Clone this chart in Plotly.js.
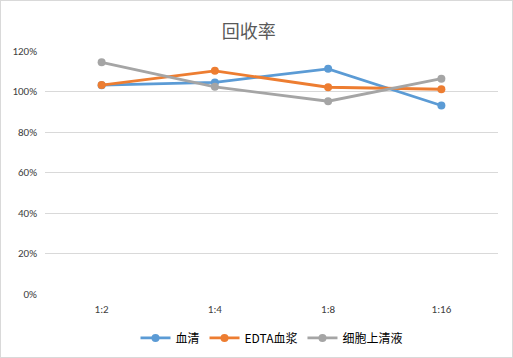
<!DOCTYPE html>
<html><head><meta charset="utf-8">
<script src="https://cdn.plot.ly/plotly-3.0.1.min.js"></script>
<style>body{margin:0;}#wrap{position:relative;width:513px;height:358px;}#frame{position:absolute;left:0;top:0;width:511px;height:356px;border:1px solid #d9d9d9;pointer-events:none;}</style>
</head><body>
<div id="wrap"><div id="chart" style="width:513px;height:358px;"></div><div id="frame"></div></div>
<script>
const categories = ["1:2", "1:4", "1:8", "1:16"];
const serum = [1.031, 1.045, 1.112, 0.931];
const edtaPlasma = [1.032, 1.102, 1.021, 1.011];
const cellSupernatant = [1.144, 1.023, 0.952, 1.063];
const seriesNames = ["血清", "EDTA血浆", "细胞上清液"];
const colors = ["#5B9BD5", "#ED7D31", "#A5A5A5"];
const font = "Calibri, Carlito, 'Liberation Sans', 'Noto Sans CJK SC', sans-serif";
const data = [serum, edtaPlasma, cellSupernatant].map((ys, i) => ({
  x: categories, y: ys, name: seriesNames[i], type: "scatter", mode: "lines+markers",
  line: {color: colors[i], width: 2.8}, marker: {color: colors[i], size: 8}
}));
const layout = {
  width: 513, height: 358,
  margin: {l: 45, r: 15, t: 51, b: 64},
  paper_bgcolor: "#ffffff", plot_bgcolor: "#ffffff",
  title: {text: "回收率", x: 0.485, xanchor: "center", y: 0.912, yanchor: "middle",
    font: {family: "'Noto Sans CJK SC', sans-serif", size: 18, color: "#595959"}},
  xaxis: {type: "category", range: [-0.5, 3.5], showgrid: false, zeroline: false, showline: false,
    ticks: "", ticklabelstandoff: 7, automargin: false, tickfont: {family: font, size: 11, color: "#404040"}},
  yaxis: {range: [0, 1.2], dtick: 0.2, tickformat: ".0%", showgrid: true, gridcolor: "#d9d9d9", gridwidth: 1,
    zeroline: false, showline: false, ticks: "", ticklabelstandoff: 7, automargin: false,
    tickfont: {family: font, size: 11, color: "#404040"}},
  showlegend: true,
  legend: {orientation: "h", x: 0.5, xanchor: "center", yref: "container", y: 0.056, yanchor: "middle",
    font: {family: "'Noto Sans CJK SC', sans-serif", size: 12, color: "#000000"}, itemwidth: 30, tracegroupgap: 0},
  font: {family: font}
};
Plotly.newPlot("chart", data, layout, {displayModeBar: false, staticPlot: true});
</script>
</body></html>
